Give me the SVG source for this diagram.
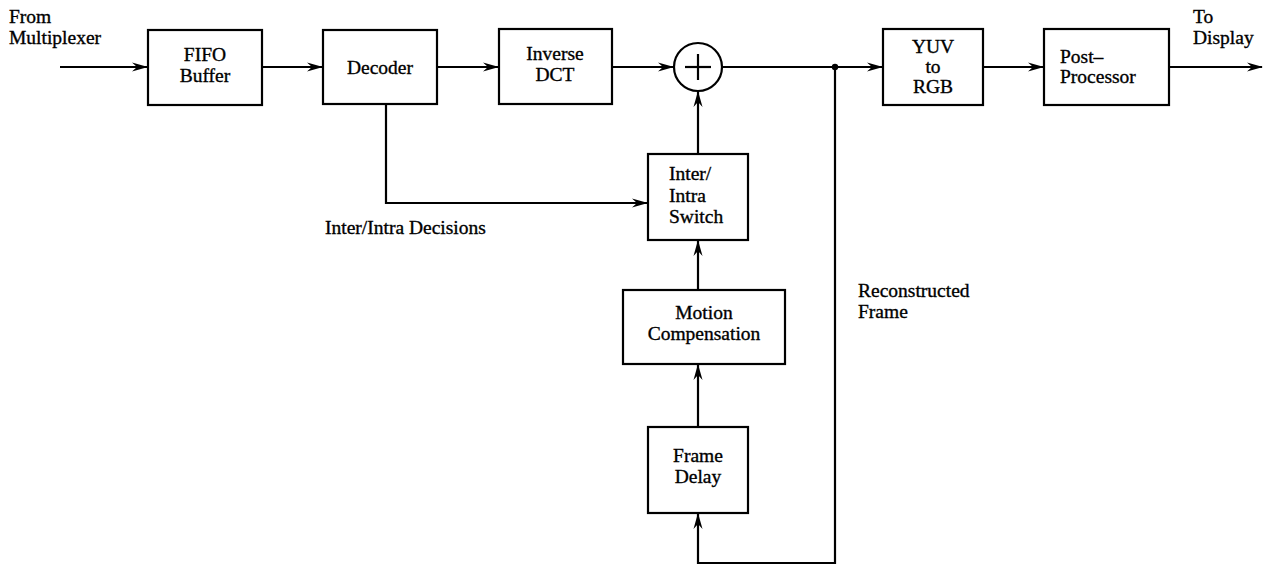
<svg xmlns="http://www.w3.org/2000/svg" width="1275" height="566" viewBox="0 0 1275 566">
<defs>
<marker id="arr" viewBox="0 0 16 10" refX="15" refY="5" markerWidth="16" markerHeight="10" markerUnits="userSpaceOnUse" orient="auto">
<path d="M0,0.5 L16,5 L0,9.5 L5,5 z" fill="#000"/>
</marker>
</defs>
<style>
.box{fill:#fff;stroke:#000;stroke-width:2.2}
.ln{fill:none;stroke:#000;stroke-width:2.2}
text{font-family:"Liberation Serif","Times New Roman",serif;font-size:19.5px;fill:#000;stroke:#000;stroke-width:0.35}
.c{text-anchor:middle}
</style>
<rect width="1275" height="566" fill="#fff"/>
<g id="connectors">
<line class="ln" x1="60" y1="67" x2="147" y2="67" marker-end="url(#arr)"/>
<line class="ln" x1="262" y1="67" x2="322" y2="67" marker-end="url(#arr)"/>
<line class="ln" x1="437" y1="67" x2="498" y2="67" marker-end="url(#arr)"/>
<line class="ln" x1="612" y1="67" x2="673" y2="67" marker-end="url(#arr)"/>
<line class="ln" x1="722" y1="67" x2="882" y2="67" marker-end="url(#arr)"/>
<line class="ln" x1="983" y1="67" x2="1043" y2="67" marker-end="url(#arr)"/>
<line class="ln" x1="1169" y1="67" x2="1262" y2="67" marker-end="url(#arr)"/>
<polyline class="ln" points="386,104 386,203 647,203" marker-end="url(#arr)"/>
<line class="ln" x1="698" y1="154" x2="698" y2="92" marker-end="url(#arr)"/>
<line class="ln" x1="698" y1="290" x2="698" y2="241" marker-end="url(#arr)"/>
<line class="ln" x1="698" y1="427" x2="698" y2="365" marker-end="url(#arr)"/>
<polyline class="ln" points="835,67 835,563 698,563 698,514" marker-end="url(#arr)"/>
<circle cx="835" cy="67" r="3.2" fill="#000"/>
</g>
<g id="fifo">
<rect class="box" x="148" y="30" width="114" height="75"/>
<text x="205" y="61" class="c">FIFO</text>
<text x="205" y="82" class="c">Buffer</text>
</g>
<g id="decoder">
<rect class="box" x="323" y="30" width="114" height="74"/>
<text x="380" y="74" class="c">Decoder</text>
</g>
<g id="idct">
<rect class="box" x="499" y="29" width="113" height="75"/>
<text x="555" y="60" class="c">Inverse</text>
<text x="555" y="81" class="c">DCT</text>
</g>
<g id="adder">
<circle cx="698" cy="67" r="24" fill="#fff" stroke="#000" stroke-width="2.2"/>
<line class="ln" x1="685" y1="67" x2="711" y2="67"/>
<line class="ln" x1="698" y1="54" x2="698" y2="80"/>
</g>
<g id="yuv">
<rect class="box" x="883" y="29" width="100" height="76"/>
<text x="933" y="53" class="c">YUV</text>
<text x="933" y="73" class="c">to</text>
<text x="933" y="93" class="c">RGB</text>
</g>
<g id="post">
<rect class="box" x="1044" y="29" width="125" height="76"/>
<text x="1060" y="63">Post–</text>
<text x="1060" y="83">Processor</text>
</g>
<g id="switch">
<rect class="box" x="648" y="154" width="100" height="86"/>
<text x="669" y="180">Inter/</text>
<text x="669" y="202">Intra</text>
<text x="669" y="223">Switch</text>
</g>
<g id="motion">
<rect class="box" x="623" y="290" width="162" height="74"/>
<text x="704" y="319" class="c">Motion</text>
<text x="704" y="340" class="c">Compensation</text>
</g>
<g id="delay">
<rect class="box" x="648" y="427" width="100" height="86"/>
<text x="698" y="462" class="c">Frame</text>
<text x="698" y="483" class="c">Delay</text>
</g>
<g id="labels">
<text x="9" y="23">From</text>
<text x="9" y="44">Multiplexer</text>
<text x="1193" y="23">To</text>
<text x="1193" y="44">Display</text>
<text x="325" y="234">Inter/Intra Decisions</text>
<text x="858" y="297">Reconstructed</text>
<text x="858" y="318">Frame</text>
</g>
</svg>
